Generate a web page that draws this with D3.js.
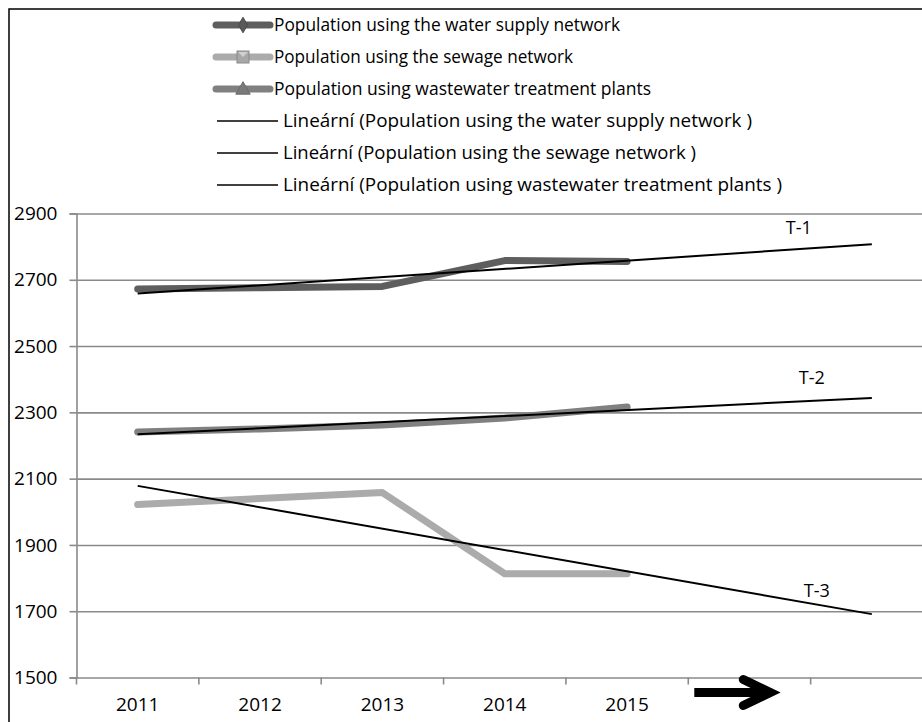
<!DOCTYPE html>
<html>
<head>
<meta charset="utf-8">
<script src="https://cdn.jsdelivr.net/npm/d3@7"></script>
<style>
  html, body { margin: 0; padding: 0; background: #fff; }
  svg { display: block; }
  text { font-family: "Open Sans", "Noto Sans", sans-serif; fill: #000; }
</style>
</head>
<body>
<script>
// ---- data ----
const categories = ["2011", "2012", "2013", "2014", "2015"];
const forecastPeriods = 2;
const waterSupply = [2672, 2676, 2680, 2758, 2755];
const sewage = [2022, 2040, 2058, 1813, 1813];
const wastewater = [2241, 2250, 2262, 2283, 2316];
const yTicks = [1500, 1700, 1900, 2100, 2300, 2500, 2700, 2900];
const seriesNames = [
  "Population using the water supply network",
  "Population using the sewage network",
  "Population using wastewater treatment plants"
];
const trendNames = [
  "Lineární (Population using the water supply network )",
  "Lineární (Population using the sewage network )",
  "Lineární (Population using wastewater treatment plants )"
];
const trendLabels = ["T-1", "T-3", "T-2"];

// ---- setup ----
const W = 922, H = 722;
const svg = d3.select("body").append("svg").attr("width", W).attr("height", H);
svg.append("rect").attr("width", W).attr("height", H).attr("fill", "#fff");

const nBands = categories.length + forecastPeriods;
const x = d3.scaleBand().domain(d3.range(nBands)).range([76.5, 933]).padding(0);
const bw = x.bandwidth();
const cx = i => x(i) + bw / 2;
const y = d3.scaleLinear().domain([1500, 2900]).range([677.5, 213.5]);

// outer frame (cropped at right/bottom)
svg.append("path").attr("d", `M9,${H + 5} L9,9 L${W + 5},9`)
  .attr("fill", "none").attr("stroke", "#000").attr("stroke-width", 1.5);

const gridColor = "#8a8a8a";
// gridlines
const gAxisGrid = svg.append("g").attr("transform", `translate(${x.range()[0]},0)`)
  .call(d3.axisLeft(y).tickValues(yTicks).tickSize(-(x.range()[1] - x.range()[0])).tickFormat(""));
gAxisGrid.select(".domain").remove();
gAxisGrid.selectAll("line").attr("stroke", gridColor).attr("stroke-width", 1.6);

// left axis with outward ticks + labels
const gY = svg.append("g").attr("transform", `translate(${x.range()[0]},0)`)
  .call(d3.axisLeft(y).tickValues(yTicks).tickSize(7).tickPadding(12).tickFormat(d3.format("d")));
gY.select(".domain").attr("stroke", gridColor).attr("stroke-width", 1.6);
gY.selectAll("line").attr("stroke", gridColor).attr("stroke-width", 1.6);
gY.selectAll("text").attr("font-size", 19).attr("font-family", "'Open Sans', sans-serif").attr("fill", "#000");

// x axis ticks at band boundaries
svg.append("g").selectAll("line").data(d3.range(nBands + 1)).join("line")
  .attr("x1", i => x.range()[0] + i * bw).attr("x2", i => x.range()[0] + i * bw)
  .attr("y1", y(1500)).attr("y2", y(1500) + 7)
  .attr("stroke", gridColor).attr("stroke-width", 1.6);

// x labels
const gX = svg.append("g").attr("transform", `translate(0,${y(1500)})`)
  .call(d3.axisBottom(x).tickSize(0).tickPadding(20).tickFormat(i => categories[i] || ""));
gX.select(".domain").remove();
gX.selectAll("text").attr("font-size", 19).attr("font-family", "'Open Sans', sans-serif").attr("fill", "#000");

// ---- series ----
const series = [
  { name: seriesNames[0], values: waterSupply, color: "#5e5e5e", marker: "diamond" },
  { name: seriesNames[1], values: sewage, color: "#ababab", marker: "square" },
  { name: seriesNames[2], values: wastewater, color: "#808080", marker: "triangle" }
];
const line = d3.line().x((d, i) => cx(i)).y(d => y(d));
[series[1], series[2], series[0]].forEach(s => {
  svg.append("path").datum(s.values).attr("d", line)
    .attr("fill", "none").attr("stroke", s.color).attr("stroke-width", 7)
    .attr("stroke-linecap", "round").attr("stroke-linejoin", "round");
});

// linear trends (least squares), forecast forward
function fit(vals) {
  const xs = vals.map((v, i) => i);
  const mx = d3.mean(xs), my = d3.mean(vals);
  const b = d3.sum(xs, (xv, i) => (xv - mx) * (vals[i] - my)) / d3.sum(xs, xv => (xv - mx) ** 2);
  const a = my - b * mx;
  return i => a + b * i;
}
const last = nBands - 1;
series.forEach((s, k) => {
  const f = fit(s.values);
  svg.append("line")
    .attr("x1", cx(0)).attr("y1", y(f(0)))
    .attr("x2", cx(last)).attr("y2", y(f(last)))
    .attr("stroke", "#000").attr("stroke-width", 2);
  s.trendEnd = f(last);
});

// trend labels
const tl = [
  { t: trendLabels[0], v: series[0].trendEnd, dx: -73, dy: -16 },
  { t: trendLabels[2], v: series[2].trendEnd, dx: -60, dy: -20 },
  { t: trendLabels[1], v: series[1].trendEnd, dx: -55, dy: -23 }
];
svg.append("g").selectAll("text").data(tl).join("text")
  .attr("x", d => cx(last) + d.dx).attr("y", d => y(d.v) + d.dy)
  .attr("text-anchor", "middle").attr("dy", "0.35em")
  .attr("font-size", 18).text(d => d.t);

// arrow
const ay = y(1500) + 15;
svg.append("path")
  .attr("d", `M${x(5) + 6},${ay} L${x(5) + 80},${ay}`)
  .attr("stroke", "#000").attr("stroke-width", 9).attr("stroke-linecap", "butt");
svg.append("path")
  .attr("d", `M${x(5) + 55},${ay - 13} L${x(5) + 82},${ay} L${x(5) + 55},${ay + 13}`)
  .attr("fill", "none").attr("stroke", "#000").attr("stroke-width", 9)
  .attr("stroke-linecap", "round").attr("stroke-linejoin", "miter");

// ---- legend ----
const lg = svg.append("g");
const rowY = i => 25 + i * 32;
const seriesTextW = [346, 299, 377];
const trendTextW = [469, 413, 499];
series.forEach((s, i) => {
  const yy = rowY(i);
  lg.append("line").attr("x1", 216).attr("x2", 270).attr("y1", yy).attr("y2", yy)
    .attr("stroke", s.color).attr("stroke-width", 7).attr("stroke-linecap", "round");
  const mx = 243;
  if (s.marker === "diamond") {
    lg.append("path").attr("d", d3.symbol(d3.symbolDiamond, 70)()).attr("transform", `translate(${mx},${yy})`)
      .attr("fill", "#5a5a5a").attr("stroke", "#4a4a4a");
  } else if (s.marker === "square") {
    lg.append("rect").attr("x", mx - 6).attr("y", yy - 6).attr("width", 12).attr("height", 12)
      .attr("fill", "#a8a8a8").attr("stroke", "#8a8a8a");
    lg.append("path").attr("d", `M${mx - 5},${yy - 5} L${mx},${yy} L${mx + 5},${yy - 5}`)
      .attr("fill", "#d0d0d0").attr("stroke", "none");
  } else {
    lg.append("path").attr("d", d3.symbol(d3.symbolTriangle, 90)()).attr("transform", `translate(${mx},${yy + 1})`)
      .attr("fill", "#7a7a7a").attr("stroke", "#6a6a6a");
  }
  lg.append("text").attr("x", 274).attr("y", yy).attr("dy", "0.35em").attr("font-size", 18)
    .attr("textLength", seriesTextW[i]).attr("lengthAdjust", "spacingAndGlyphs").text(s.name);
});
trendNames.forEach((t, i) => {
  const yy = rowY(i + 3);
  lg.append("line").attr("x1", 217).attr("x2", 278).attr("y1", yy).attr("y2", yy)
    .attr("stroke", "#000").attr("stroke-width", 1.5);
  lg.append("text").attr("x", 283).attr("y", yy).attr("dy", "0.35em").attr("font-size", 18)
    .attr("textLength", trendTextW[i]).attr("lengthAdjust", "spacingAndGlyphs").text(t);
});
</script>
</body>
</html>
